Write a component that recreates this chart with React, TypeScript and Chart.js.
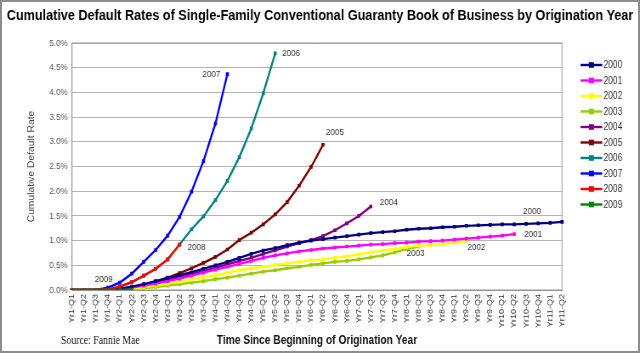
import React, { useEffect, useRef } from 'react';
import { Chart, registerables } from 'chart.js';

Chart.register(...registerables);

// ---------- data ----------
const QUARTER_LABELS = [
  'Yr1-Q1', 'Yr1-Q2', 'Yr1-Q3', 'Yr1-Q4',
  'Yr2-Q1', 'Yr2-Q2', 'Yr2-Q3', 'Yr2-Q4',
  'Yr3-Q1', 'Yr3-Q2', 'Yr3-Q3', 'Yr3-Q4',
  'Yr4-Q1', 'Yr4-Q2', 'Yr4-Q3', 'Yr4-Q4',
  'Yr5-Q1', 'Yr5-Q2', 'Yr5-Q3', 'Yr5-Q4',
  'Yr6-Q1', 'Yr6-Q2', 'Yr6-Q3', 'Yr6-Q4',
  'Yr7-Q1', 'Yr7-Q2', 'Yr7-Q3', 'Yr7-Q4',
  'Yr8-Q1', 'Yr8-Q2', 'Yr8-Q3', 'Yr8-Q4',
  'Yr9-Q1', 'Yr9-Q2', 'Yr9-Q3', 'Yr9-Q4',
  'Yr10-Q1', 'Yr10-Q2', 'Yr10-Q3', 'Yr10-Q4',
  'Yr11-Q1', 'Yr11-Q2',
];

const SERIES_NAMES = ['2000', '2001', '2002', '2003', '2004', '2005', '2006', '2007', '2008', '2009'];

const S2000 = [0, 0, 0, 0.01, 0.03, 0.07, 0.12, 0.18, 0.24, 0.30, 0.36, 0.43, 0.50, 0.57, 0.65, 0.73, 0.80, 0.85, 0.91, 0.96, 1.00, 1.03, 1.06, 1.09, 1.12, 1.15, 1.17, 1.19, 1.22, 1.24, 1.25, 1.27, 1.28, 1.30, 1.31, 1.32, 1.33, 1.33, 1.34, 1.35, 1.36, 1.38];
const S2001 = [0, 0, 0, 0, 0.02, 0.05, 0.09, 0.13, 0.18, 0.23, 0.29, 0.35, 0.41, 0.47, 0.53, 0.59, 0.65, 0.70, 0.74, 0.78, 0.81, 0.84, 0.86, 0.88, 0.90, 0.92, 0.93, 0.95, 0.96, 0.98, 0.99, 1.00, 1.02, 1.04, 1.06, 1.08, 1.10, 1.13];
const S2002 = [0, 0, 0, 0, 0.01, 0.03, 0.06, 0.09, 0.13, 0.17, 0.21, 0.26, 0.30, 0.35, 0.40, 0.44, 0.47, 0.51, 0.54, 0.57, 0.60, 0.62, 0.65, 0.68, 0.72, 0.76, 0.80, 0.83, 0.87, 0.90, 0.91, 0.93, 0.96, 0.99];
const S2003 = [0, 0, 0, 0, 0.01, 0.02, 0.04, 0.06, 0.09, 0.12, 0.15, 0.18, 0.22, 0.25, 0.29, 0.33, 0.37, 0.40, 0.44, 0.47, 0.51, 0.54, 0.57, 0.59, 0.62, 0.66, 0.70, 0.76, 0.83, 0.88];
const S2004 = [0, 0, 0, 0, 0.02, 0.05, 0.09, 0.14, 0.20, 0.26, 0.32, 0.38, 0.45, 0.52, 0.59, 0.65, 0.73, 0.80, 0.88, 0.95, 1.01, 1.09, 1.21, 1.35, 1.50, 1.69];
const S2005 = [0, 0, 0, 0.01, 0.02, 0.05, 0.10, 0.17, 0.25, 0.34, 0.44, 0.55, 0.67, 0.82, 1.01, 1.16, 1.33, 1.53, 1.78, 2.11, 2.49, 2.94];
const S2006 = [0, 0, 0, 0.01, 0.07, 0.16, 0.29, 0.43, 0.62, 0.92, 1.23, 1.49, 1.82, 2.21, 2.69, 3.27, 3.98, 4.79];
const S2007 = [0, 0, 0, 0.05, 0.15, 0.33, 0.57, 0.81, 1.10, 1.48, 1.99, 2.61, 3.37, 4.37];
const S2008 = [0, 0, 0, 0.01, 0.07, 0.16, 0.29, 0.43, 0.62, 0.92];
const S2009 = [0, 0, 0, 0, 0, 0.01];

const SERIES_VALUES = [S2000, S2001, S2002, S2003, S2004, S2005, S2006, S2007, S2008, S2009];

const SERIES_COLORS = ['#000080', '#ff00ff', '#ffff00', '#99cc00', '#800080', '#800000', '#008080', '#0000ff', '#ff0000', '#008000'];

// draw order (lower = on top)
const SERIES_ORDER = [0, 0, 0, 0, 0, 0, 1, 0, -1, -2];

// label offsets from the last point of each series (display px)
const LABEL_OFFSETS = [[-30, -10], [19, 0], [10, 6], [-3, 7], [18, -4], [12, -12], [16, 0], [-16, 0], [17, 3], [-28, -10]];

const TITLE = 'Cumulative Default Rates of Single-Family Conventional Guaranty Book of Business by Origination Year';
const Y_TITLE = 'Cumulative Default Rate';
const X_TITLE = 'Time Since Beginning of Origination Year';
const SOURCE = 'Source: Fannie Mae';

// ---------- layout ----------
const OUT_W = 640;
const H = 353;
const W = 753;
const SX = OUT_W / W;
const FONT = '"Liberation Sans", Arial, Helvetica, sans-serif';

const overlayPlugin = {
  id: 'overlay',
  beforeDatasetsDraw(chart: any) {
    const { ctx, chartArea } = chart;
    ctx.save();
    ctx.strokeStyle = '#9a9a9a';
    ctx.lineWidth = 1;
    ctx.strokeRect(chartArea.left, chartArea.top, chartArea.right - chartArea.left, chartArea.bottom - chartArea.top);
    ctx.restore();
  },
  afterDraw(chart: any) {
    const { ctx } = chart;
    ctx.save();
    // title
    ctx.fillStyle = '#000';
    ctx.font = `bold 14.9px ${FONT}`;
    ctx.textAlign = 'center';
    ctx.textBaseline = 'alphabetic';
    ctx.fillText(TITLE, W / 2, 20);
    // source
    ctx.font = '11.5px "Liberation Serif", "Times New Roman", serif';
    ctx.textAlign = 'left';
    ctx.fillStyle = '#111';
    ctx.fillText(SOURCE, 61 / SX, 344);
    // series labels
    ctx.font = `9.5px ${FONT}`;
    ctx.fillStyle = '#333';
    ctx.textAlign = 'center';
    ctx.textBaseline = 'middle';
    chart.data.datasets.forEach((ds: any, i: number) => {
      const meta = chart.getDatasetMeta(i);
      const pts = meta.data;
      const last = pts[pts.length - 1];
      if (!last) return;
      const [dx, dy] = LABEL_OFFSETS[i];
      ctx.fillText(ds.label, last.x + dx / SX, last.y + dy);
    });
    // legend
    const lx0 = 683;
    const lx1 = 708.6;
    ctx.textAlign = 'left';
    ctx.font = `10px ${FONT}`;
    chart.data.datasets.forEach((ds: any, i: number) => {
      const y = 65 + i * 15.5;
      ctx.strokeStyle = ds.borderColor;
      ctx.lineWidth = 2.4;
      ctx.beginPath();
      ctx.moveTo(lx0, y);
      ctx.lineTo(lx1, y);
      ctx.stroke();
      ctx.fillStyle = ds.borderColor;
      const cx = (lx0 + lx1) / 2;
      ctx.fillRect(cx - 3, y - 2.8, 6, 5.6);
      ctx.fillStyle = '#333';
      ctx.fillText(ds.label, 710, y + 0.5);
    });
    ctx.restore();
  },
};

export default function App() {
  const canvasRef = useRef<HTMLCanvasElement | null>(null);

  useEffect(() => {
    document.body.style.margin = '0';
    const canvas = canvasRef.current;
    if (!canvas) return;
    Chart.defaults.font.family = FONT;
    const chart = new Chart(canvas, {
      type: 'line',
      data: {
        labels: QUARTER_LABELS,
        datasets: SERIES_NAMES.map((name, i) => ({
          label: name,
          data: SERIES_VALUES[i],
          borderColor: SERIES_COLORS[i],
          backgroundColor: SERIES_COLORS[i],
          pointBackgroundColor: SERIES_COLORS[i],
          pointBorderColor: SERIES_COLORS[i],
          pointStyle: 'rect',
          pointRadius: 2.6,
          pointBorderWidth: 0,
          borderWidth: 2.3,
          tension: 0,
          fill: false,
          order: SERIES_ORDER[i],
        })),
      },
      options: {
        animation: false,
        responsive: false,
        maintainAspectRatio: false,
        layout: { padding: { top: 43, right: W - 562 / SX, left: 0, bottom: 0 } },
        plugins: {
          legend: { display: false },
          title: { display: false },
          tooltip: { enabled: false },
        },
        scales: {
          x: {
            type: 'category',
            offset: false,
            afterFit: (scale: any) => { scale.height = H - 290; },
            grid: { display: false, drawTicks: false },
            border: { color: '#8a8a8a', width: 1 },
            ticks: {
              autoSkip: false,
              maxRotation: 90,
              minRotation: 90,
              padding: 4,
              color: '#333',
              font: { size: 9, family: FONT },
            },
            title: {
              display: true,
              text: X_TITLE,
              color: '#111',
              font: { size: 12, weight: 'bold', family: FONT },
              padding: { top: 0, bottom: 5 },
            },
          },
          y: {
            min: 0,
            max: 5,
            afterFit: (scale: any) => { scale.width = 72 / SX; },
            grid: { color: '#b4b4b4', lineWidth: 1, drawTicks: false },
            border: { color: '#8a8a8a', width: 1 },
            ticks: {
              stepSize: 0.5,
              padding: 5,
              color: '#555',
              font: { size: 9.5, family: FONT },
              callback: (v: any) => Number(v).toFixed(1) + '%',
            },
            title: {
              display: true,
              text: Y_TITLE,
              color: '#444',
              font: { size: 10.3, family: FONT },
              padding: { top: 31, bottom: 0 },
            },
          },
        },
      },
      plugins: [overlayPlugin],
    } as any);
    return () => chart.destroy();
  }, []);

  return (
    <div style={{ position: 'relative', width: OUT_W, height: H, overflow: 'hidden', background: '#fff' }}>
      <canvas
        ref={canvasRef}
        width={W}
        height={H}
        style={{ position: 'absolute', left: 0, top: 0, width: W, height: H, transform: `scaleX(${SX})`, transformOrigin: '0 0' }}
      />
      <div style={{ position: 'absolute', inset: 0, border: '2px solid #8c8c8c', pointerEvents: 'none' }} />
    </div>
  );
}
